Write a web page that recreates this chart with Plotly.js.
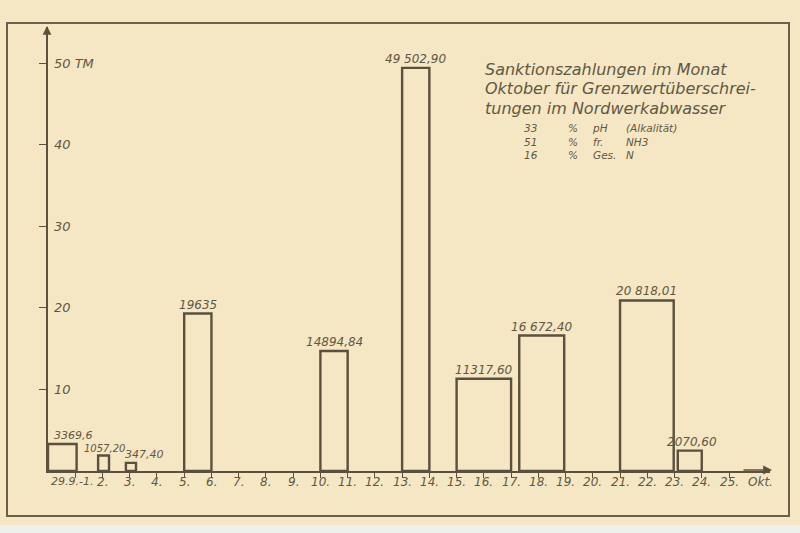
<!DOCTYPE html>
<html>
<head>
<meta charset="utf-8">
<script src="https://cdn.plot.ly/plotly-3.0.1.min.js"></script>
<style>html,body{margin:0;padding:0;background:#f5e7c3;}#chart{width:800px;height:533px;}</style>
</head>
<body>
<div id="chart"></div>
<script>
// ---- data ----
const dayTickVals = [1,2,3,4,5,6,7,8,9,10,11,12,13,14,15,16,17,18,19,20,21,22,23,24,25];
const dayTickText = ['29.9.-1.','2.','3.','4.','5.','6.','7.','8.','9.','10.','11.','12.','13.','14.','15.','16.','17.','18.','19.','20.','21.','22.','23.','24.','25.'];
const monthLabel = 'Okt.';
const barStart = [0, 1.84, 2.86, 5, 10, 13, 15, 17.3, 21, 23.12];
const barEnd   = [1.05, 2.24, 3.23, 6, 11, 14, 17, 18.95, 22.97, 24];
const barHeightTM = [3.3, 1.9, 1.0, 19.3, 14.7, 49.4, 11.3, 16.6, 20.9, 2.5];
const barLabels = ['3369,6','1057,20','347,40','19635','14894,84','49 502,90','11317,60','16 672,40','20 818,01','2070,60'];
const yTickVals = [10,20,30,40,50];
const yTickText = ['10','20','30','40','50 TM'];
const titleLines = ['Sanktionszahlungen im Monat','Oktober für Grenzwertüberschrei-','tungen im Nordwerkabwasser'];
const sharePct = ['33','51','16'];
const shareUnit = ['%','%','%'];
const shareKind = ['pH','fr.','Ges.'];
const shareName = ['(Alkalität)','NH3','N'];

// ---- styling ----
const labelShiftPx = [11, 1, 14, 0, 0, 0, 0, 0, 0, 2];
const labelSize = [11, 10, 11, 12, 12, 12, 12, 12, 12, 12];

// ---- geometry helpers (pixel -> paper) ----
const PL = 48, PR = 770, PT = 27, PB = 471;
const X = px => (px - PL) / (PR - PL);
const Y = py => (PB - py) / (PB - PT);

const ink = '#5b503f';
const txt = '#615745';
const fam = '"DejaVu Sans", "Liberation Sans", sans-serif';

const xs = barStart.map((s, i) => (s + barEnd[i]) / 2);
const ws = barStart.map((s, i) => barEnd[i] - s);

const trace = {
  type: 'bar',
  x: xs,
  y: barHeightTM,
  width: ws,
  marker: {color: 'rgba(0,0,0,0)', line: {color: ink, width: 2.4}},
  hoverinfo: 'skip'
};

const annotations = [];
// value labels
barLabels.forEach((t, i) => {
  annotations.push({xref: 'x', yref: 'y', x: xs[i], y: barHeightTM[i], xanchor: 'center', yanchor: 'bottom',
    xshift: labelShiftPx[i], yshift: 0, text: t, showarrow: false,
    font: {family: fam, size: labelSize[i], color: txt, style: 'italic'}});
});
// y tick labels (drawn right of the axis)
yTickVals.forEach((v, i) => {
  annotations.push({xref: 'paper', yref: 'y', x: X(52), y: v, xanchor: 'left', yanchor: 'middle',
    text: yTickText[i], showarrow: false, font: {family: fam, size: 13, color: txt, style: 'italic'}});
});
// x tick labels
dayTickVals.forEach((v, i) => {
  const first = i === 0;
  annotations.push({xref: first ? 'paper' : 'x', yref: 'paper', x: first ? X(49) : v, y: Y(473),
    xanchor: first ? 'left' : 'center', yanchor: 'top', text: dayTickText[i], showarrow: false,
    font: {family: fam, size: first ? 11 : 12, color: txt, style: 'italic'}});
});
annotations.push({xref: 'paper', yref: 'paper', x: X(746), y: Y(473), xanchor: 'left', yanchor: 'top',
  text: monthLabel, showarrow: false, font: {family: fam, size: 12, color: txt, style: 'italic'}});
// title block
titleLines.forEach((t, i) => {
  annotations.push({xref: 'paper', yref: 'paper', x: X(483), y: Y(69 + i * 19.5), xanchor: 'left', yanchor: 'middle',
    text: t, showarrow: false, font: {family: fam, size: 16, color: txt, style: 'italic'}});
});
const cols = [[sharePct, 522], [shareUnit, 566], [shareKind, 590], [shareName, 624]];
cols.forEach(([arr, px]) => {
  annotations.push({xref: 'paper', yref: 'paper', x: X(px), y: Y(120), xanchor: 'left', yanchor: 'top', align: 'left',
    text: arr.join('<br>'), showarrow: false, font: {family: fam, size: 10.5, color: txt, style: 'italic'}});
});
// axis arrows
annotations.push({xref: 'paper', yref: 'paper', x: X(47), y: Y(26), ax: 0, ay: 30, axref: 'pixel', ayref: 'pixel',
  showarrow: true, arrowhead: 2, arrowsize: 1.1, arrowwidth: 1.6, arrowcolor: ink, text: ''});
annotations.push({xref: 'paper', yref: 'paper', x: X(772), y: Y(470), ax: -30, ay: 0, axref: 'pixel', ayref: 'pixel',
  showarrow: true, arrowhead: 2, arrowsize: 1.1, arrowwidth: 1.6, arrowcolor: ink, text: ''});

const shapes = [
  {type: 'rect', xref: 'paper', yref: 'paper', x0: X(7), x1: X(789), y0: Y(516), y1: Y(23),
   line: {color: '#6a5f4c', width: 2}, fillcolor: 'rgba(0,0,0,0)', layer: 'below'},
  {type: 'rect', xref: 'paper', yref: 'paper', x0: X(0), x1: X(800), y0: Y(533), y1: Y(525),
   line: {width: 0}, fillcolor: '#eef0ea', layer: 'below'}
];

const layout = {
  width: 800, height: 533,
  margin: {l: PL, r: 800 - PR, t: PT, b: 533 - PB, pad: 0},
  paper_bgcolor: '#f5e7c3',
  plot_bgcolor: 'rgba(0,0,0,0)',
  showlegend: false,
  bargap: 0,
  xaxis: {
    range: [0, (PR - PL) / 27.24], tickvals: dayTickVals, showticklabels: false,
    showgrid: false, zeroline: false, showline: true, linecolor: ink, linewidth: 2,
    ticks: 'outside', ticklen: 5, tickwidth: 1, tickcolor: ink, fixedrange: true
  },
  yaxis: {
    range: [0, (PB - PT) / 8.16], tickvals: yTickVals, showticklabels: false,
    showgrid: false, zeroline: false, showline: true, linecolor: ink, linewidth: 2,
    ticks: 'outside', ticklen: 7, tickwidth: 1, tickcolor: ink, fixedrange: true
  },
  annotations: annotations,
  shapes: shapes
};

Plotly.newPlot('chart', [trace], layout, {displayModeBar: false, staticPlot: true});
</script>
</body>
</html>
